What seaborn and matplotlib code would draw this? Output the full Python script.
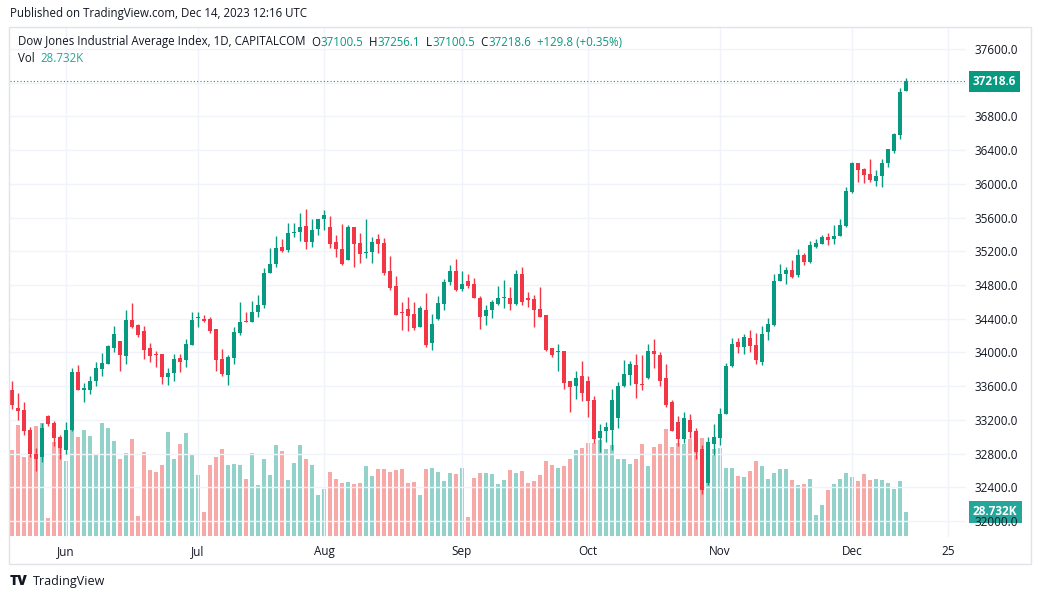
import numpy as np
import pandas as pd
import matplotlib
matplotlib.use('Agg')
import matplotlib.pyplot as plt
from matplotlib.patches import Rectangle
import seaborn as sns

# ─────────────────────────────────────────
# DATA  (US30 daily, CAPITALCOM)
# ─────────────────────────────────────────
dates = pd.bdate_range('2023-05-19', '2023-12-14')

opens = [33549, 33335, 33311, 33085, 32800, 32757, 33240, 33157, 32998, 32848,
         33081, 33762, 33553, 33553, 33659, 33798, 33861, 34052, 34131, 33956,
         34380, 34321, 34250, 34048, 33976, 33976, 33707, 33755, 33929, 33905,
         34087, 34412, 34400, 34392, 34273, 33917, 33731, 33929, 34226, 34368,
         34361, 34479, 34562, 34943, 35050, 35248, 35216, 35414, 35430, 35497,
         35311, 35465, 35584, 35485, 35307, 35224, 35097, 35485, 35295, 35184,
         35192, 35343, 35295, 34962, 34784, 34475, 34511, 34452, 34297, 34499,
         34111, 34392, 34570, 34832, 34962, 34749, 34852, 34816, 34650, 34428,
         34507, 34578, 34642, 34650, 34578, 34935, 34650, 34638, 34519, 34448,
         34056, 34004, 34020, 33664, 33596, 33723, 33664, 33434, 32982, 33066,
         33085, 33216, 33596, 33727, 33846, 33620, 33691, 34012, 33964, 33691,
         33406, 33180, 32978, 33204, 33062, 32860, 32456, 32919, 32990, 33264,
         33834, 34119, 34060, 34166, 34083, 33885, 34238, 34321, 34844, 34927,
         34974, 34915, 35153, 35070, 35248, 35284, 35367, 35343, 35378, 35497,
         35901, 36246, 36174, 36115, 36032, 36091, 36246, 36388, 36578, 37100.5]
highs = [33656, 33513, 33406, 33121, 32867, 33164, 33252, 33192, 33018, 33180,
         33810, 33846, 33632, 33715, 33881, 33988, 34087, 34309, 34131, 34499,
         34582, 34337, 34309, 34111, 34012, 33976, 33818, 33976, 33976, 34155,
         34475, 34475, 34440, 34420, 34273, 34036, 33969, 34301, 34594, 34475,
         34606, 34677, 34998, 35236, 35378, 35351, 35533, 35533, 35651, 35699,
         35580, 35580, 35687, 35616, 35390, 35521, 35509, 35485, 35414, 35580,
         35366, 35402, 35354, 35141, 34903, 34594, 34654, 34594, 34547, 34701,
         34452, 34665, 34867, 35042, 35105, 34970, 34935, 34887, 34673, 34566,
         34626, 34792, 34863, 34780, 34982, 35018, 34721, 34685, 34780, 34448,
         34056, 34103, 34020, 33664, 33782, 33901, 33723, 33485, 33153, 33176,
         33561, 33644, 33905, 33893, 33976, 33964, 34095, 34155, 34000, 33858,
         33430, 33240, 33299, 33264, 33109, 32907, 33002, 33145, 33335, 33869,
         34166, 34166, 34214, 34261, 34226, 34309, 34404, 34927, 35046, 35010,
         35094, 35224, 35176, 35319, 35343, 35390, 35414, 35509, 35580, 35960,
         36258, 36246, 36186, 36293, 36162, 36293, 36412, 36602, 37137, 37256.1]
lows = [33331, 33196, 33026, 32757, 32590, 32697, 33125, 32887, 32733, 32796,
        33073, 33553, 33410, 33505, 33600, 33719, 33861, 34004, 33778, 33861,
        34289, 34182, 33917, 33885, 33826, 33620, 33612, 33660, 33767, 33826,
        34087, 34301, 34361, 34226, 33778, 33719, 33612, 33862, 34210, 34361,
        34361, 34420, 34531, 34943, 35010, 35188, 35188, 35370, 35319, 35224,
        35252, 35394, 35450, 35240, 35133, 35038, 35097, 35014, 35061, 35121,
        35061, 35180, 34923, 34741, 34444, 34262, 34250, 34262, 34297, 34064,
        34028, 34380, 34499, 34796, 34725, 34725, 34760, 34642, 34281, 34329,
        34412, 34566, 34531, 34507, 34566, 34566, 34543, 34305, 34424, 34020,
        33949, 33782, 33568, 33295, 33450, 33422, 33232, 32923, 32820, 32939,
        32848, 33109, 33584, 33608, 33454, 33549, 33679, 33810, 33596, 33358,
        33073, 32887, 32931, 32990, 32741, 32325, 32432, 32786, 32907, 33264,
        33822, 33988, 33976, 34000, 33858, 33850, 34143, 34309, 34844, 34809,
        34880, 34892, 35034, 35058, 35236, 35284, 35272, 35284, 35378, 35485,
        35889, 36020, 36008, 36020, 35972, 35960, 36198, 36364, 36531, 37100.5]
closes = [33374, 33303, 33065, 32800, 32741, 33109, 33149, 32982, 32864, 33085,
          33762, 33553, 33572, 33656, 33810, 33869, 34071, 34214, 33968, 34380,
          34301, 34206, 34028, 33956, 33968, 33707, 33751, 33917, 33885, 34095,
          34380, 34420, 34372, 34254, 33905, 33739, 33945, 34238, 34357, 34361,
          34475, 34559, 34939, 35046, 35236, 35200, 35414, 35418, 35485, 35311,
          35450, 35580, 35628, 35287, 35228, 35050, 35485, 35287, 35168, 35192,
          35307, 35287, 34943, 34764, 34444, 34467, 34432, 34285, 34523, 34087,
          34333, 34582, 34832, 34962, 34737, 34816, 34784, 34642, 34416, 34507,
          34598, 34650, 34650, 34578, 34935, 34602, 34626, 34507, 34424, 34032,
          33972, 34020, 33640, 33584, 33699, 33521, 33422, 32971, 33066, 33113,
          33430, 33596, 33739, 33858, 33620, 33612, 34012, 33976, 33656, 33382,
          33073, 32978, 33216, 33050, 32813, 32373, 32943, 33002, 33275, 33834,
          34095, 34060, 34178, 34071, 33905, 34214, 34333, 34844, 34927, 34974,
          34892, 35153, 35070, 35272, 35296, 35367, 35331, 35378, 35509, 35913,
          36246, 36162, 36103, 36044, 36091, 36246, 36412, 36590, 37089, 37218.6]
# volume in thousands
volumes = [103.2, 133.2, 94.8, 127.2, 132.0, 135.6, 21.6, 112.8, 115.2, 90.0,
           129.6, 118.8, 127.2, 120.0, 97.2, 135.6, 129.6, 114.0, 92.4, 99.6,
           116.4, 24.0, 100.8, 79.2, 76.8, 85.2, 124.8, 92.4, 110.4, 123.6,
           97.2, 73.2, 28.8, 85.2, 94.8, 104.4, 85.2, 86.4, 85.2, 68.4,
           99.6, 61.2, 92.4, 73.2, 109.2, 102.0, 67.2, 87.6, 109.2, 92.4,
           85.2, 49.2, 56.4, 76.8, 68.4, 63.6, 64.8, 62.4, 63.6, 84.0,
           72.0, 80.4, 80.4, 76.8, 79.2, 80.4, 63.6, 64.8, 49.2, 80.4,
           81.6, 76.8, 66.0, 75.6, 74.4, 81.6, 22.8, 69.6, 75.6, 75.6,
           74.4, 62.4, 67.2, 79.2, 75.6, 78.0, 63.6, 66.0, 73.2, 90.0,
           85.2, 81.6, 84.0, 92.4, 103.2, 105.6, 111.6, 111.6, 115.2, 104.4,
           109.2, 92.4, 92.4, 86.4, 92.4, 110.4, 84.0, 106.8, 110.4, 128.4,
           106.8, 111.6, 110.4, 116.4, 117.6, 117.6, 104.4, 104.4, 105.6, 81.6,
           81.6, 72.0, 70.8, 78.0, 90.0, 84.0, 68.4, 75.6, 80.4, 80.4,
           67.2, 61.2, 62.4, 68.4, 25.2, 37.2, 55.2, 62.4, 68.4, 75.6,
           70.8, 66.0, 74.4, 67.2, 68.4, 67.2, 63.6, 56.4, 66.0, 28.732]

price_ticks = list(range(32000, 37601, 400))
month_tick_dates = ['2023-06-01', '2023-07-03', '2023-08-01', '2023-09-01',
                    '2023-10-02', '2023-11-01', '2023-12-01', '2023-12-25']
month_tick_labels = ['Jun', 'Jul', 'Aug', 'Sep', 'Oct', 'Nov', 'Dec', '25']
# ─────────────────────────────────────────

W, H = 1038, 599
UP, DOWN = '#089981', '#F23645'
UP_VOL, DOWN_VOL = '#92D2CB', '#F7A9A7'
TXT = '#131722'
GRID = '#F0F3FA'

sns.set_theme(style='white')
plt.rcParams['font.family'] = ['Open Sans', 'DejaVu Sans']


def fx(x):
    return x / W


def fy(y):
    return 1 - y / H


n = len(dates)
xs = np.arange(n)
o = np.array(opens)
c = np.array(closes)
up = c >= o
col = np.where(up, UP, DOWN)

fig = plt.figure(figsize=(W / 100, H / 100), dpi=100)
fig.patch.set_facecolor('white')

rect = [fx(10), fy(537), fx(966) - fx(10), fy(27) - fy(537)]
axv = fig.add_axes(rect)
ax = fig.add_axes(rect, sharex=axv)
ax.patch.set_visible(False)

# volume underneath
vol_df = pd.DataFrame({'x': xs, 'vol': volumes, 'dir': np.where(up, 'up', 'down')})
sns.barplot(data=vol_df, x='x', y='vol', hue='dir', native_scale=True,
            palette={'up': UP_VOL, 'down': DOWN_VOL}, dodge=False, width=0.83,
            saturation=1, errorbar=None, legend=False, linewidth=0, ax=axv)
axv.set_ylim(-1.2, 609)
axv.axis('off')

# candles
ax.vlines(xs, lows, highs, colors=col, lw=1, zorder=3)
body_lo = np.minimum(o, c)
body_h = np.maximum(np.abs(c - o), 10)
ax.bar(xs, body_h, bottom=body_lo, width=0.78, color=col, linewidth=0, zorder=4)

ax.set_xlim(-0.333, 159.0)
ax.set_ylim(31810, 37861)

# grid + ticks
all_days = pd.bdate_range('2023-05-19', '2023-12-29')
tick_pos = [all_days.get_loc(pd.Timestamp(d)) for d in month_tick_dates]
ax.set_xticks(tick_pos)
ax.set_xticklabels(month_tick_labels)
ax.yaxis.tick_right()
ax.set_yticks(price_ticks)
last = closes[-1]
# the 37200 label sits under the last-price marker, as on the original
ax.set_yticklabels(['' if abs(v - last) < 150 else f'{v:.1f}' for v in price_ticks])
ax.tick_params(axis='y', length=0, pad=6, labelsize=8.5, labelcolor=TXT)
ax.tick_params(axis='x', length=0, pad=6, labelsize=8.5, labelcolor=TXT)
ax.grid(True, color=GRID, lw=1)
ax.set_axisbelow(True)
for s in ax.spines.values():
    s.set_visible(False)
ax.set_xlabel('')
ax.set_ylabel('')

# last price line + labels
ax.axhline(last, color=UP, ls=(0, (1, 2)), lw=0.8, zorder=2)
ax.annotate(f'{last:.1f}', xy=(1, last), xycoords=('axes fraction', 'data'),
            xytext=(5, 0), textcoords='offset points', ha='left', va='center',
            fontsize=8.5, fontweight='bold', color='white', annotation_clip=False,
            bbox=dict(boxstyle='square,pad=0.35', fc=UP, ec='none'))
axv.annotate(f'{volumes[-1]:.3f}K', xy=(1, volumes[-1]), xycoords=('axes fraction', 'data'),
             xytext=(5, 0), textcoords='offset points', ha='left', va='center',
             fontsize=8.5, fontweight='bold', color='white', annotation_clip=False,
             bbox=dict(boxstyle='square,pad=0.35', fc='#26A69A', ec='none'))

# outer frame
fig.add_artist(Rectangle((fx(9), fy(564)), fx(1031) - fx(9), fy(27) - fy(564),
                         transform=fig.transFigure, fill=False, ec='#E0E3EB', lw=1))

# header + legend
fig.text(fx(10), fy(14), 'Published on TradingView.com, Dec 14, 2023 12:16 UTC',
         fontsize=8.3, color=TXT, va='center', ha='left')


def chain(x, y, pieces, size=8.3):
    t = fig.text(fx(x), fy(y), pieces[0][0], fontsize=size, color=pieces[0][1],
                 va='center', ha='left')
    for s, cc in pieces[1:]:
        t = ax.annotate(s, xy=(1, 0), xycoords=t, va='bottom', ha='left',
                        fontsize=size, color=cc, annotation_clip=False)
    return t


chain(18, 42, [('Dow Jones Industrial Average Index, 1D, CAPITALCOM  ', TXT),
               ('O', TXT), (f'{opens[-1]:.1f}', UP),
               ('  H', TXT), (f'{highs[-1]:.1f}', UP),
               ('  L', TXT), (f'{lows[-1]:.1f}', UP),
               ('  C', TXT), (f'{closes[-1]:.1f}', UP),
               ('  +129.8 (+0.35%)', UP)])
chain(18, 59, [('Vol  ', TXT), (f'{volumes[-1]:.3f}K', '#26A69A')])

# footer logo
fig.text(fx(10), fy(581), 'TV', fontsize=10, fontweight='heavy', color=TXT,
         va='center', ha='left')
fig.text(fx(33), fy(581), 'TradingView', fontsize=9, color=TXT, va='center', ha='left')

fig.savefig('out.png', dpi=100, facecolor='white')
